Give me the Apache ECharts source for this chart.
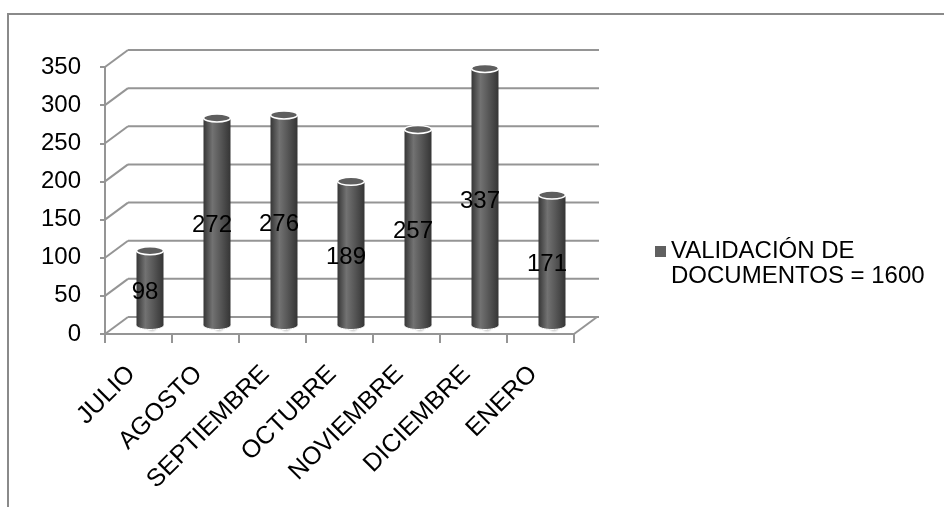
<!DOCTYPE html>
<html>
<head>
<meta charset="utf-8">
<script src="https://cdn.jsdelivr.net/npm/echarts@6/dist/echarts.min.js"></script>
<style>
html,body{margin:0;padding:0;background:#fff;}
#chart{width:944px;height:507px;}
</style>
</head>
<body>
<div id="chart"></div>
<script>
// ---- data ----
const categories = ['JULIO', 'AGOSTO', 'SEPTIEMBRE', 'OCTUBRE', 'NOVIEMBRE', 'DICIEMBRE', 'ENERO'];
const values = [98, 272, 276, 189, 257, 337, 171];
const yTicks = [0, 50, 100, 150, 200, 250, 300, 350];
const seriesName = 'VALIDACIÓN DE\nDOCUMENTOS = 1600';

// ---- style constants ----
const FONT = '"Liberation Sans", Arial, sans-serif';
const DX = 23, DY = 17;          // 3D depth offset
const LINE = '#959595';
const BAR_W = 27;

const chart = echarts.init(document.getElementById('chart'), null, { renderer: 'canvas' });

function renderWall(params, api) {
  const cs = params.coordSys;
  const v = api.value(1);
  const y = api.coord([0, v])[1];
  const x0 = cs.x, x1 = cs.x + cs.width;
  const st = { stroke: LINE, lineWidth: 2 };
  const children = [
    { type: 'line', shape: { x1: x0, y1: y, x2: x0 + DX, y2: y - DY }, style: st },
    { type: 'line', shape: { x1: x0 + DX, y1: y - DY, x2: x1 + DX + 2, y2: y - DY }, style: st }
  ];
  if (v === 0) {
    children.push({ type: 'line', shape: { x1: x1, y1: y, x2: x1 + DX, y2: y - DY }, style: st });
  }
  return { type: 'group', children: children };
}

function renderBar(params, api) {
  const i = api.value(0), v = api.value(1);
  const base = api.coord([i, 0]);
  const top = api.coord([i, v]);
  const cx = base[0] + DX / 2;
  const yb = base[1] - DY / 2;
  const yt = top[1] - DY / 2;
  const rx = BAR_W / 2, ry = 4;
  const grad = new echarts.graphic.LinearGradient(0, 0, 1, 0, [
    { offset: 0, color: '#363636' },
    { offset: 0.33, color: '#727272' },
    { offset: 0.6, color: '#5a5a5a' },
    { offset: 1, color: '#353535' }
  ]);
  const shadow = new echarts.graphic.RadialGradient(0.5, 0.5, 0.5, [
    { offset: 0, color: 'rgba(150,150,150,0.9)' },
    { offset: 0.6, color: 'rgba(190,190,190,0.6)' },
    { offset: 1, color: 'rgba(255,255,255,0)' }
  ]);
  return {
    type: 'group',
    children: [
      { type: 'ellipse', shape: { cx: cx + 2, cy: yb + 1, rx: 25, ry: 7 }, style: { fill: shadow } },
      { type: 'ellipse', shape: { cx: cx, cy: yb, rx: rx, ry: ry }, style: { fill: grad, stroke: '#fff', lineWidth: 1 } },
      { type: 'rect', shape: { x: cx - rx, y: yt, width: BAR_W, height: yb - yt }, style: { fill: grad } },
      { type: 'ellipse', shape: { cx: cx, cy: yt, rx: rx, ry: ry }, style: { fill: '#5e5e5e', stroke: '#ffffff', lineWidth: 1.5 } },
      { type: 'text', z2: 50, style: { text: String(v), x: cx - 5, y: (yt + yb) / 2 + 4, font: '24px ' + FONT, fill: '#000', align: 'center', verticalAlign: 'middle' } }
    ]
  };
}

const option = {
  animation: false,
  backgroundColor: '#fff',
  textStyle: { fontFamily: FONT },
  graphic: [
    { type: 'polyline', shape: { points: [[8, 507], [8, 14], [944, 14]] }, style: { stroke: '#8a8a8a', lineWidth: 2, fill: null } }
  ],
  grid: { left: 105, top: 67, width: 469, height: 267 },
  legend: {
    data: [seriesName],
    left: 655,
    top: 214,
    padding: 0,
    icon: 'rect',
    itemWidth: 11,
    itemHeight: 11,
    formatter: name => '\n' + name,
    textStyle: { fontSize: 24, color: '#000', fontFamily: FONT, lineHeight: 25 }
  },
  xAxis: {
    type: 'category',
    data: categories,
    axisLine: { show: true, lineStyle: { color: LINE, width: 2 } },
    axisTick: { show: true, length: 9, interval: 0, lineStyle: { color: LINE, width: 2 } },
    axisLabel: { rotate: 45, interval: 0, margin: 29, padding: [0, 10, 0, 0], fontSize: 25, color: '#000', fontFamily: FONT },
    splitLine: { show: false }
  },
  yAxis: {
    type: 'value',
    min: 0, max: 350, interval: 50,
    axisLine: { show: true, lineStyle: { color: LINE, width: 2 } },
    axisTick: { show: true, length: 5, lineStyle: { color: LINE, width: 2 } },
    axisLabel: { margin: 24, fontSize: 24, color: '#000', fontFamily: FONT },
    splitLine: { show: false }
  },
  series: [
    {
      type: 'custom',
      name: 'walls',
      renderItem: renderWall,
      data: yTicks.map(v => [0, v]),
      silent: true,
      z: 1
    },
    {
      type: 'custom',
      name: seriesName,
      renderItem: renderBar,
      itemStyle: { color: '#606060' },
      data: values.map((v, i) => [i, v]),
      z: 2
    }
  ]
};
chart.setOption(option);
</script>
</body>
</html>
